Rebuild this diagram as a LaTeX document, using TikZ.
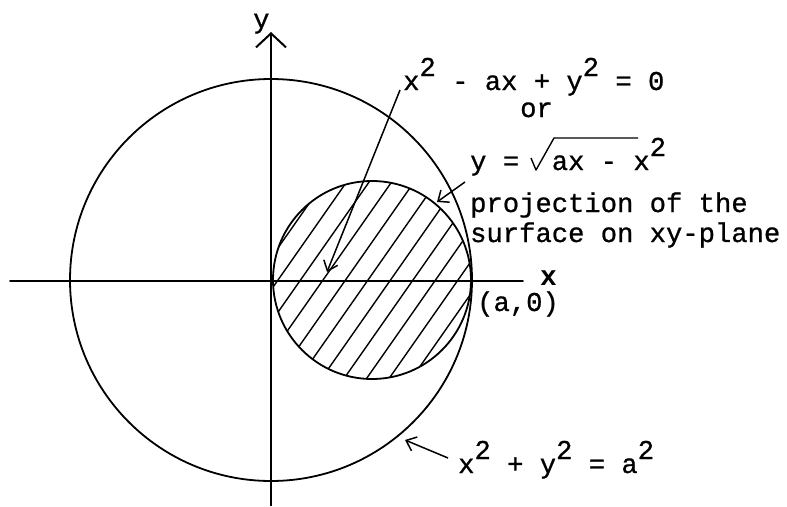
\documentclass[tikz,border=0pt]{standalone}
\usepackage{fontspec}
\newfontfamily\tw[FakeBold=0.8]{Liberation Mono}
\newfontfamily\twn{Liberation Mono}
\usetikzlibrary{arrows.meta}
\newcommand\supt{\raisebox{14pt}{2}}
\begin{document}
\begin{tikzpicture}[x=1pt,y=-1pt,
  ln/.style={line width=1.8pt, line cap=round},
  hatchln/.style={line width=1.4pt},
  txt/.style={font=\tw\fontsize{27.2}{30}\selectfont, anchor=base west, inner sep=0pt},
  ann/.style={line width=1.5pt, -{Straight Barb[length=9pt,width=15pt]}}]
\useasboundingbox (0,0) rectangle (787,506);
\coordinate (O) at (271,280);
\coordinate (C) at (372,280);
% hatching
\begin{scope}
  \clip (C) circle[radius=99pt];
  \foreach \k in {-8,...,8} {
    \draw[hatchln] ({368+22.5*\k-0.7*120},400) -- ({368+22.5*\k+0.7*120},160);
  }
\end{scope}
% axes
\coordinate (xl) at (10,281);
\coordinate (xr) at (523,281);
\coordinate (yb) at (271,506);
\coordinate (yt) at (271,32);
\draw[ln] (xl) -- (xr);
\draw[line width=2pt, -{Straight Barb[length=14pt,width=30pt]}] (yb) -- (yt);
% circles
\draw[ln] (O) circle[radius=201pt];
\draw[ln] (C) circle[radius=99pt];
% labels
\node[txt] (ylab) at (253,28) {y};
\node[txt, font=\twn\bfseries\fontsize{28}{30}\selectfont] (xlab) at (540,285) {x};
\node[txt] (a0) at (477,311) {(a,0)};
\node[txt] (eq1) at (403,90) {x\supt{} - ax + y\supt{} = 0};
\node[txt] (or) at (520,117) {or};
\node[txt] (eq2) at (470,170) {y = \ ax - x\supt};
\draw[line width=1.4pt, line join=round] (531,158) -- (536,170) -- (554,138) -- (638,138);
\node[txt] (pr1) at (470,212) {projection of the};
\node[txt] (pr2) at (470,242) {surface on xy-plane};
\node[txt] (eq3) at (458,473) {x\supt{} + y\supt{} = a\supt};
% annotation arrows
\coordinate (t1) at (327,272);
\coordinate (t2) at (437,202);
\coordinate (t3) at (405,440);
\draw[ann] (eq1.base west) ++(-3,0) -- (t1);
\draw[ann] (eq2.base west) ++(-5,12) -- (t2);
\draw[ann] (eq3.base west) ++(-10,-15) -- (t3);
\end{tikzpicture}
\end{document}
